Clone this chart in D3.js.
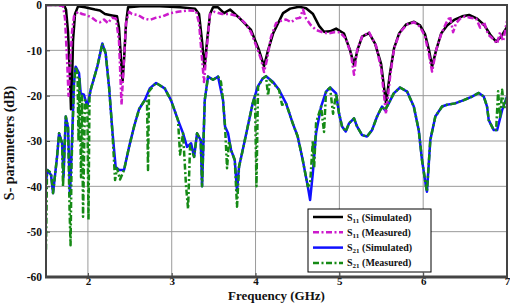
<!DOCTYPE html>
<html><head><meta charset="utf-8">
<script src="https://cdn.jsdelivr.net/npm/d3@7"></script>
<style>
html,body{margin:0;padding:0;background:#fff;}
svg text{font-family:"Liberation Serif","Times New Roman",serif;font-weight:bold;}
</style></head>
<body>
<svg id="c" width="510" height="303"></svg>
<script>
// ---------- data ----------
const xTicks = [2,3,4,5,6,7];
const yTicks = [0,-10,-20,-30,-40,-50,-60];
const legendNames = ["11","11","21","21"];
const legendTags = ["(Simulated)","(Measured)","(Simulated)","(Measured)"];

const s11SimFreq = [1.500,1.607,1.715,1.739,1.763,1.786,1.798,1.810,1.822,1.846,1.882,1.965,2.085,2.144,2.204,2.288,2.347,2.371,2.395,2.413,2.431,2.455,2.479,2.622,2.860,3.099,3.278,3.326,3.362,3.391,3.421,3.457,3.493,3.553,3.624,3.696,3.815,3.946,4.042,4.101,4.149,4.209,4.328,4.412,4.519,4.603,4.686,4.758,4.817,4.889,4.961,5.056,5.128,5.175,5.223,5.271,5.354,5.426,5.498,5.557,5.604,5.653,5.712,5.796,5.891,5.963,6.023,6.070,6.106,6.154,6.214,6.285,6.369,6.465,6.548,6.644,6.727,6.799,6.870,6.930,7.000];
const s11SimDb   = [0,0,0,-1,-6,-16,-23,-18,-8,-2,-0.3,-0.5,-1,-1.2,-2,-2.3,-2.5,-5,-12,-17,-12,-4,-0.5,-0.3,-0.3,-0.5,-0.8,-2,-8,-14,-8,-2,-0.5,-0.5,-1.8,-1,-3,-5.5,-10,-13.5,-10,-6.3,-1.8,-0.8,-0.4,-0.7,-2,-4.6,-5.9,-5.8,-5.2,-6.3,-10,-13.2,-9.5,-7,-6.2,-8.5,-13,-21.7,-15,-9.5,-6.3,-4.3,-3.7,-4.5,-6.5,-10,-13.6,-10,-6.3,-4.5,-3.3,-2.5,-2.2,-3,-4.4,-6.5,-8.1,-7,-4.8];

const s11MeasFreq = [1.500,1.607,1.703,1.727,1.751,1.769,1.786,1.810,1.834,1.882,1.930,1.977,2.049,2.097,2.144,2.192,2.240,2.288,2.335,2.371,2.401,2.431,2.455,2.490,2.526,2.598,2.669,2.741,2.813,2.896,2.980,3.075,3.195,3.290,3.326,3.362,3.385,3.421,3.457,3.505,3.600,3.696,3.791,3.875,3.946,4.018,4.066,4.101,4.137,4.185,4.245,4.304,4.364,4.424,4.483,4.531,4.567,4.603,4.662,4.722,4.794,4.865,4.937,5.008,5.080,5.140,5.175,5.211,5.271,5.354,5.438,5.498,5.557,5.604,5.653,5.724,5.808,5.891,5.963,6.023,6.070,6.106,6.154,6.214,6.273,6.321,6.357,6.393,6.441,6.500,6.560,6.632,6.680,6.727,6.775,6.835,6.882,6.918,6.954,7.000];
const s11MeasDb   = [0,0,-0.2,-3,-12,-20,-14,-6,-2.5,-1.5,-2,-2.2,-2.8,-3.5,-3.8,-3.2,-4,-2.8,-3,-8,-22,-12,-4,-1.5,-2,-2.2,-3,-3.3,-2.8,-2.5,-1.8,-1.5,-1.2,-1.3,-4,-12,-17,-9,-2,-1.5,-2,-2,-2.5,-4,-6,-9.5,-12,-14.8,-12,-7,-4,-3.5,-3.2,-3.8,-3,-2.8,-1,-3,-4.5,-5.5,-6,-6.3,-6,-6,-7.5,-11,-15.4,-10,-7,-6,-9,-14,-24,-16,-9.5,-6,-4.3,-3.8,-4.8,-7,-11,-14.7,-10,-6.5,-4,-2.5,-6,-4,-3,-2.5,-2.8,-3,-5,-3.8,-6.5,-7.5,-8.5,-6,-8,-3.5];

const s21SimFreq = [1.500,1.518,1.560,1.584,1.632,1.656,1.692,1.709,1.736,1.763,1.786,1.810,1.834,1.854,1.894,1.914,1.953,1.993,2.033,2.112,2.172,2.212,2.252,2.291,2.331,2.372,2.431,2.491,2.551,2.610,2.678,2.738,2.813,2.916,2.991,3.075,3.135,3.183,3.231,3.267,3.302,3.346,3.362,3.394,3.433,3.493,3.553,3.612,3.636,3.672,3.708,3.752,3.779,3.803,3.847,3.907,3.966,4.026,4.086,4.125,4.205,4.280,4.364,4.444,4.503,4.563,4.623,4.651,4.683,4.722,4.782,4.841,4.889,4.961,4.996,5.032,5.076,5.116,5.175,5.211,5.271,5.330,5.390,5.450,5.509,5.545,5.589,5.649,5.724,5.808,5.888,5.947,5.986,6.025,6.045,6.085,6.145,6.225,6.285,6.380,6.484,6.583,6.663,6.723,6.762,6.782,6.842,6.882,6.942,7.000];
const s21SimDb   = [-39,-36.4,-37.5,-41.5,-33.5,-28.3,-30.5,-38,-24.6,-27,-42,-30,-17.3,-13.6,-15,-19.5,-19.8,-22.4,-18.7,-13.6,-8.5,-10.7,-18,-27.6,-35.7,-36.4,-36.4,-31.3,-26.8,-23,-21,-18.4,-17.2,-18.4,-21,-25.4,-28.3,-31.3,-30.5,-33.5,-28.3,-29.8,-40,-21,-15.8,-16.5,-15.8,-21,-26.8,-28.3,-32,-34.2,-41,-35.7,-32,-26.8,-21.7,-18,-16.2,-15.7,-16.9,-18.7,-21.7,-26.1,-29,-34.2,-40,-43,-37.2,-28.3,-22.4,-19.1,-18.2,-19.5,-23.9,-26.8,-27.9,-26.1,-25,-26.8,-28.7,-29,-27.6,-24.6,-22.4,-23.2,-21.7,-19.5,-18.2,-19.1,-22.4,-27.6,-34.2,-39,-41.2,-29.8,-24.6,-22.4,-22,-21.7,-21,-20.2,-19.4,-20.2,-22.4,-25.4,-27.6,-27.6,-23.2,-20.2];

const s21MeasFreq = [1.500,1.512,1.560,1.584,1.632,1.656,1.692,1.703,1.736,1.763,1.781,1.793,1.805,1.834,1.854,1.876,1.888,1.900,1.918,1.930,1.942,1.965,1.993,2.007,2.019,2.033,2.112,2.172,2.212,2.252,2.291,2.324,2.347,2.383,2.431,2.491,2.551,2.610,2.678,2.705,2.717,2.729,2.813,2.916,2.991,3.075,3.099,3.135,3.171,3.195,3.219,3.267,3.302,3.346,3.362,3.394,3.433,3.493,3.553,3.588,3.612,3.636,3.660,3.684,3.708,3.752,3.779,3.803,3.847,3.907,3.966,3.993,4.011,4.030,4.086,4.125,4.149,4.173,4.280,4.316,4.364,4.444,4.503,4.563,4.623,4.651,4.683,4.699,4.722,4.782,4.817,4.841,4.889,4.925,4.961,4.996,5.032,5.076,5.116,5.175,5.211,5.271,5.330,5.390,5.450,5.509,5.545,5.589,5.649,5.724,5.808,5.888,5.947,5.986,6.025,6.045,6.085,6.145,6.225,6.285,6.380,6.484,6.583,6.663,6.723,6.762,6.782,6.842,6.870,6.894,6.918,6.942,6.966,7.000];
const s21MeasDb   = [-54,-36.4,-37,-41.5,-33.5,-28.3,-30.5,-40,-24.6,-27,-45,-53,-35,-17.3,-13.6,-15,-30,-16,-38,-20,-46.7,-21,-22.4,-47.4,-20,-18.7,-13.6,-8.5,-10.7,-18,-27.6,-38.6,-36,-38.5,-36.4,-31.3,-26.8,-23,-21,-21,-36.4,-19,-17.2,-18.4,-21,-25.4,-33,-28.3,-40,-45,-31,-33.5,-28.3,-29.8,-40,-21,-15.8,-16.5,-15.8,-17,-21,-26.8,-36,-30,-32,-34.2,-44.5,-35.7,-32,-26.8,-21.7,-20,-40,-18,-16.2,-15.7,-20,-16.5,-18.7,-22,-21.7,-26.1,-29,-34.2,-40,-39.5,-30,-36,-26,-22.4,-28,-19.1,-18.2,-24,-19.5,-23.9,-26.8,-27.9,-26.1,-25,-26.8,-28.7,-29,-27.6,-24.6,-22.4,-23.2,-21.7,-19.5,-18.2,-19.1,-22.4,-27.6,-34.2,-39,-41.2,-29.8,-24.6,-22.4,-22,-21.7,-21,-20.2,-19.4,-20.2,-22.4,-25.4,-27.6,-27.6,-19,-25,-18.7,-23,-20.2];

// ---------- layout ----------
const svg = d3.select("#c");
const L = 46, R = 507, T = 5, B = 277;
const x = d3.scaleLinear().domain([1.5, 7]).range([L, R]);
const y = d3.scaleLinear().domain([-60, 0]).range([B, T]);

svg.append("rect").attr("x",L).attr("y",T).attr("width",R-L).attr("height",B-T).attr("fill","#fff");

// grid
const gGrid = svg.append("g");
xTicks.filter(d=>d<7).forEach(d=>{
  gGrid.append("line").attr("x1",x(d)).attr("x2",x(d)).attr("y1",T).attr("y2",B)
    .attr("stroke","#9a9a9a").attr("stroke-width",1);
});
yTicks.filter(d=>d>-60 && d<0).forEach(d=>{
  gGrid.append("line").attr("x1",L).attr("x2",R).attr("y1",y(d)).attr("y2",y(d))
    .attr("stroke","#9a9a9a").attr("stroke-width",1);
});

// axes
const xAxis = d3.axisBottom(x).tickValues(xTicks).tickSize(-4).tickPadding(4).tickFormat(d3.format("d"));
const yAxis = d3.axisLeft(y).tickValues(yTicks).tickSize(-4).tickPadding(4).tickFormat(d=>d===0?"0":String(d).replace("\u2212","-"));
const gx = svg.append("g").attr("transform",`translate(0,${B})`).call(xAxis);
const gy = svg.append("g").attr("transform",`translate(${L},0)`).call(yAxis);
[gx,gy].forEach(g=>{
  g.select(".domain").remove();
  g.selectAll(".tick line").attr("stroke","#444").attr("stroke-width",1);
  g.selectAll(".tick text").attr("font-size",11.5).attr("fill","#111")
    .attr("font-family","'Liberation Serif','Times New Roman',serif").attr("font-weight","bold");
});
gx.selectAll(".tick text").attr("font-size",11).attr("y",0.5).attr("dy","0.71em");

// clip + lines
svg.append("clipPath").attr("id","clip").append("rect").attr("x",L).attr("y",T).attr("width",R-L).attr("height",B-T);
const line = d3.line().x(d=>x(d[0])).y(d=>y(d[1]));
const series = [
  {f:s11SimFreq, v:s11SimDb, color:"#000000", dash:null},
  {f:s21SimFreq, v:s21SimDb, color:"#1010ff", dash:null},
  {f:s11MeasFreq, v:s11MeasDb, color:"#cc1acc", dash:"6,2.5,2,2.5"},
  {f:s21MeasFreq, v:s21MeasDb, color:"#158a15", dash:"6,2.5,2,2.5"}
];
const gLines = svg.append("g").attr("clip-path","url(#clip)");
series.forEach(s=>{
  gLines.append("path").datum(d3.zip(s.f, s.v)).attr("d",line)
    .attr("fill","none").attr("stroke",s.color).attr("stroke-width",2.5)
    .attr("stroke-linejoin","round")
    .attr("stroke-dasharray",s.dash);
});

// frame
svg.append("rect").attr("x",L).attr("y",T).attr("width",R-L).attr("height",B-T)
  .attr("fill","none").attr("stroke","#444").attr("stroke-width",2);
svg.append("line").attr("x1",L-1).attr("x2",R+1).attr("y1",B).attr("y2",B).attr("stroke","#444").attr("stroke-width",3);

// axis titles
svg.append("text").attr("x",(L+R)/2).attr("y",300).attr("text-anchor","middle")
  .attr("font-size",13).attr("fill","#111").text("Frequency (GHz)");
svg.append("text").attr("transform",`translate(14,${(T+B)/2+2}) rotate(-90)`).attr("text-anchor","middle")
  .attr("font-size",14).attr("fill","#111").text("S- parameters (dB)");

// legend
const lg = svg.append("g");
lg.append("rect").attr("x",308).attr("y",209).attr("width",123).attr("height",63)
  .attr("fill","#fff").attr("stroke","#000").attr("stroke-width",1);
const legendOrder = [0,2,1,3];
legendOrder.forEach((si,i)=>{
  const s = series[si];
  const yy = 217 + i*15.3;
  lg.append("line").attr("x1",313).attr("x2",343).attr("y1",yy).attr("y2",yy)
    .attr("stroke",s.color).attr("stroke-width",2.5).attr("stroke-dasharray",s.dash);
  const t = lg.append("text").attr("x",347).attr("y",yy+3.5).attr("font-size",10).attr("fill","#111");
  t.append("tspan").text("S");
  t.append("tspan").attr("font-size",7).attr("dy",2).text(legendNames[i]);
  t.append("tspan").attr("dy",-2).text(" " + legendTags[i]);
});
</script>
</body></html>
